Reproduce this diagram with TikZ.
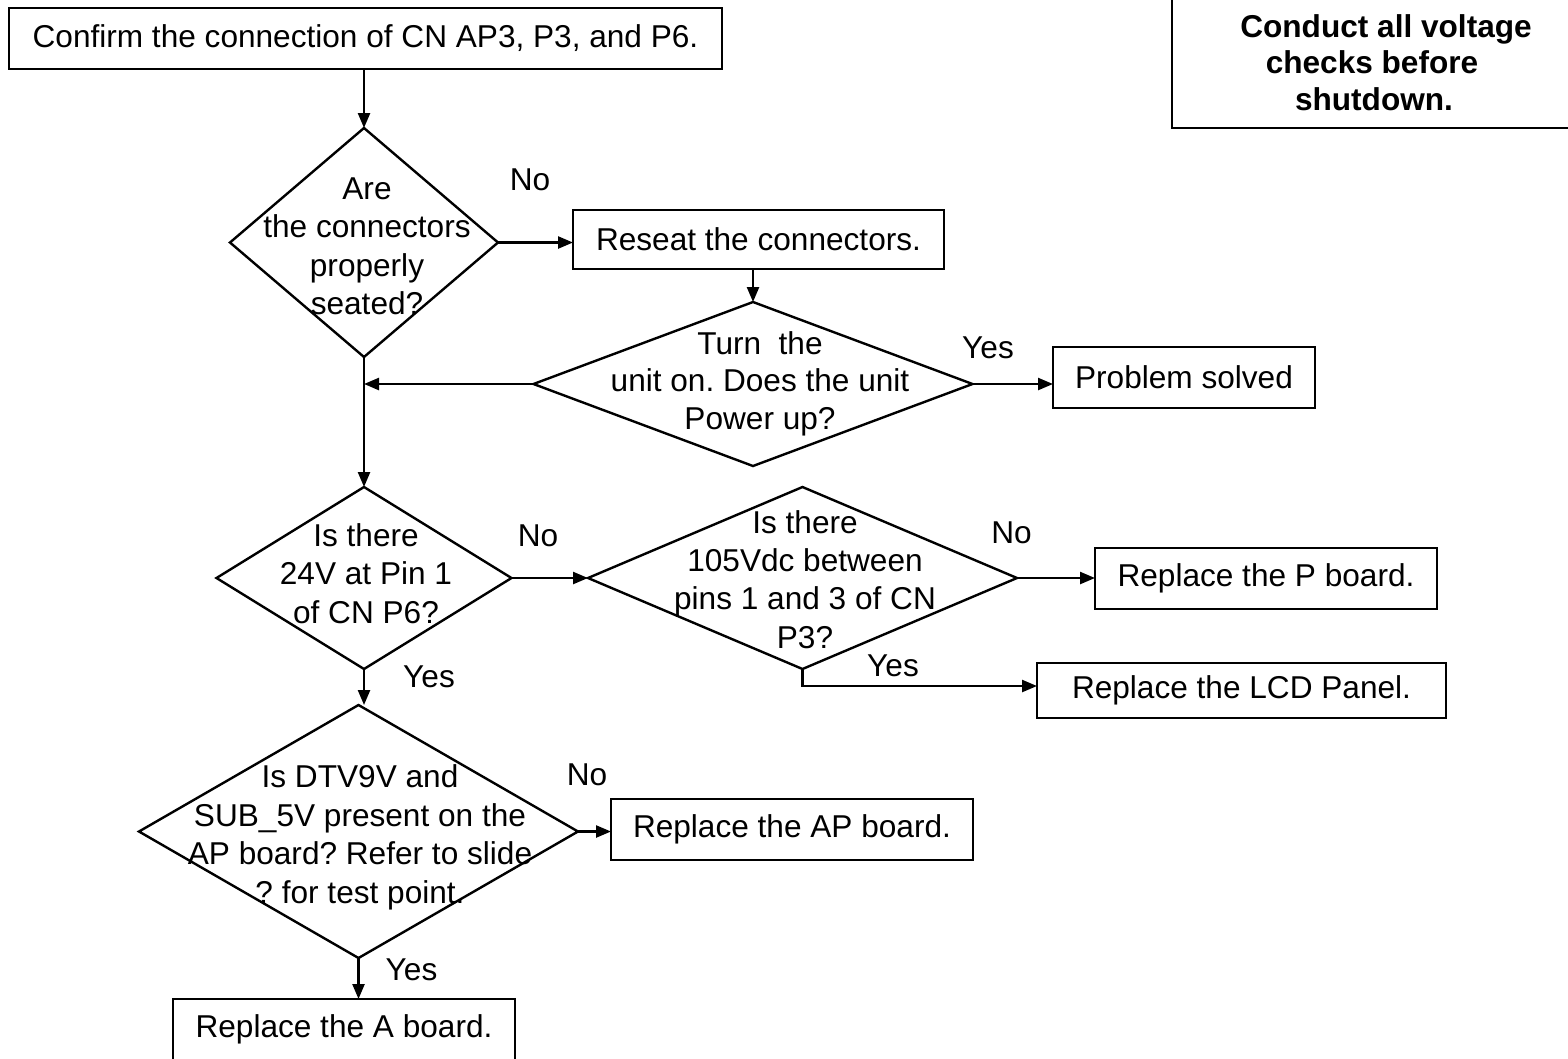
\documentclass[tikz,border=0pt]{standalone}
\usepackage{fontspec}
\setmainfont{Liberation Sans}
\usetikzlibrary{arrows.meta,shapes.geometric}
\frenchspacing
\begin{document}
\frenchspacing
\begin{tikzpicture}[x=1pt,y=-1pt,
  every node/.style={inner sep=0pt, outer sep=0pt},
  txt/.style={font=\fontsize{31.6}{38.5}\selectfont},
  box/.style={draw, line width=2.4pt, rectangle, txt},
  dia/.style={draw, line width=2.4pt, diamond},
  dtext/.style={txt, align=center, anchor=north},
  lab/.style={txt, anchor=base},
  arr/.style={line width=2.4pt, -{Triangle[length=15pt,width=12pt]}}]

\useasboundingbox (0,0) rectangle (1568,1058);

% boxes
\node[box, minimum width=713pt, minimum height=61pt] (b1) at (365.5,38.5) {Confirm the connection of CN AP3, P3, and P6.};
\node[box, minimum width=371pt, minimum height=59pt] (reseat) at (758.5,239.5) {Reseat the connectors.};
\node[box, minimum width=262pt, minimum height=61pt] (ps) at (1184,377.5) {Problem solved};
\node[box, minimum width=342pt, minimum height=61pt] (pb) at (1266,578.5) {Replace the P board.};
\node[box, minimum width=409pt, minimum height=55pt] (lcd) at (1241.5,690.5) {Replace the LCD Panel.};
\node[box, minimum width=362pt, minimum height=61pt] (ap) at (792,829.5) {Replace the AP board.};
\node[box, minimum width=342pt, minimum height=61pt] (ab) at (344,1029.5) {Replace the A board.};

% note box
\node[draw, line width=2.4pt, minimum width=428pt, minimum height=158pt] (note) at (1386,49) {};
\node[txt, font=\fontsize{31.6}{36.5}\selectfont\bfseries, align=center, anchor=north] (notet) at (1386,14.4)
  {Conduct all voltage\\checks before\hspace*{28pt}\mbox{}\\shutdown.\hspace*{24pt}\mbox{}};

% diamonds
\node[dia, minimum width=268pt, minimum height=229pt] (d1) at (364,242.5) {};
\node[dtext] (d1t) at (367,177.4) {Are\\the connectors\\properly\\seated?};

\node[dia, minimum width=439pt, minimum height=164pt] (d2) at (753,384) {};
\node[dtext, font=\fontsize{31.6}{37.5}\selectfont] (d2t) at (760,331.4) {Turn\ \ the\\unit on. Does the unit\\Power up?};

\node[dia, minimum width=295pt, minimum height=182pt] (d3) at (364,578) {};
\node[dtext] (d3t) at (366,523.4) {Is there\\24V at Pin 1\\of CN P6?};

\node[dia, minimum width=429pt, minimum height=182pt] (d4) at (802.5,578) {};
\node[dtext, font=\fontsize{31.6}{38.3}\selectfont] (d4t) at (805,510.4) {Is there\\105Vdc between\\pins 1 and 3 of CN\\P3?};

\node[dia, minimum width=439pt, minimum height=253pt] (d5) at (358.5,831.5) {};
\node[dtext] (d5t) at (360,764.9) {Is DTV9V and\\SUB\_5V present on the\\AP board? Refer to slide\\? for test point.};

% labels
\node[lab] (l1) at (530,190) {No};
\node[lab] (l2) at (988,358) {Yes};
\node[lab] (l3) at (538,546) {No};
\node[lab] (l4) at (1011.5,543) {No};
\node[lab] (l5) at (429,687) {Yes};
\node[lab] (l6) at (893,676) {Yes};
\node[lab] (l7) at (587,785) {No};
\node[lab] (l8) at (411.5,980) {Yes};

\coordinate (j4) at (802.5,686);

% connectors
\draw[arr] (b1.south -| d1.north) -- (d1.north);
\draw[arr] (d1.east) -- (reseat.west |- d1.east);
\draw[arr] (reseat.south -| d2.north) -- (d2.north);
\draw[arr] (d2.east) -- (ps.west |- d2.east);
\draw[arr] (d2.west) -- (d2.west -| d1.south);
\draw[arr] (d1.south) -- (d3.north);
\draw[arr] (d3.east) -- (d4.west);
\draw[arr] (d4.east) -- (pb.west |- d4.east);
\draw[arr] (d4.south) -- (j4) -- (j4 -| lcd.west);
\draw[arr] (d3.south) -- (d3.south |- d5.north);
\draw[arr] (d5.east) -- (ap.west |- d5.east);
\draw[arr] (d5.south) -- (d5.south |- ab.north);
\end{tikzpicture}
\end{document}
